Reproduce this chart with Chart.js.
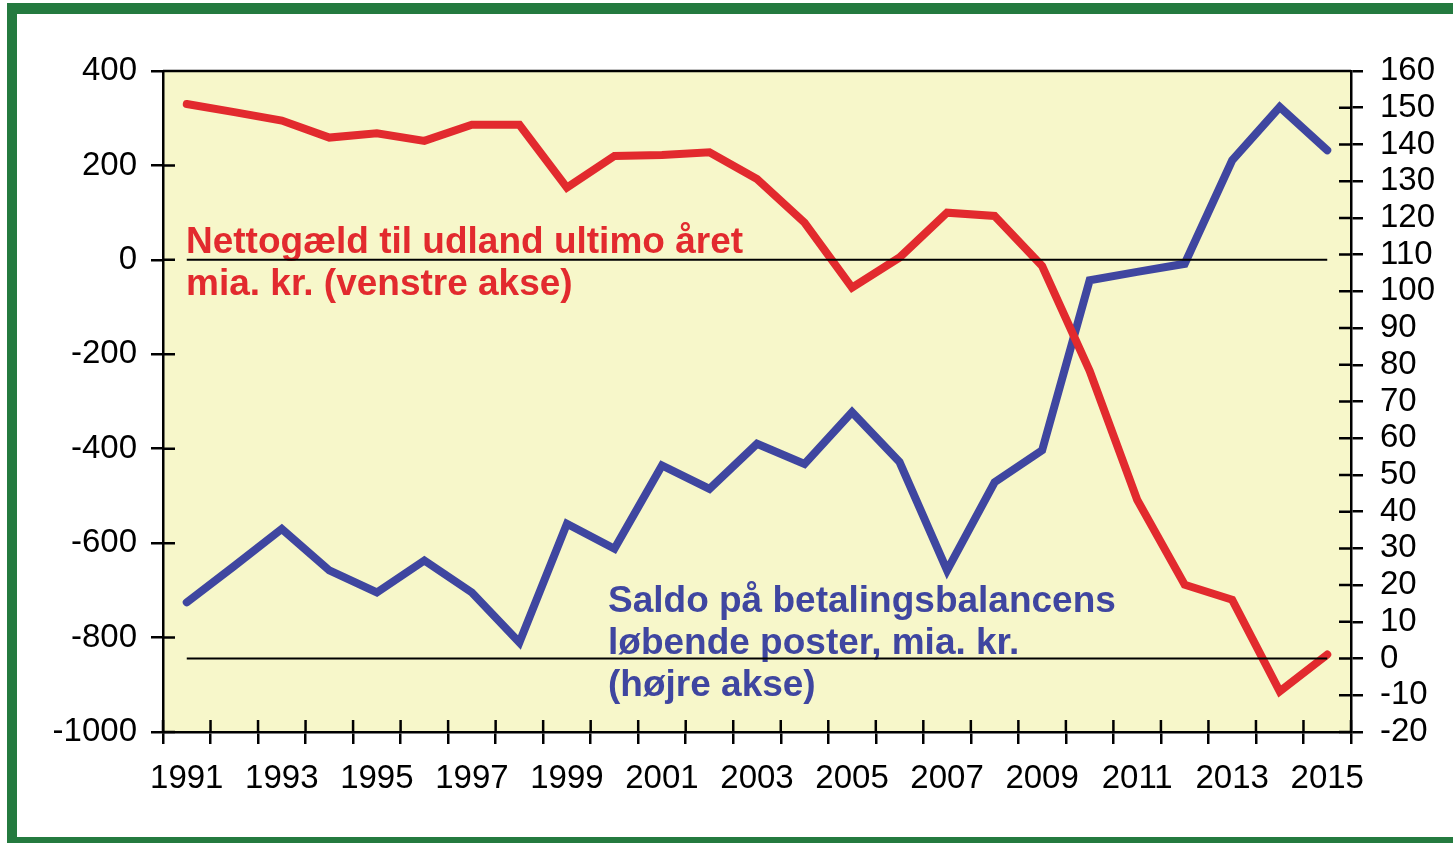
<!DOCTYPE html>
<html>
<head>
<meta charset="utf-8">
<script src="https://cdn.jsdelivr.net/npm/chart.js@4.4.1/dist/chart.umd.min.js"></script>
<style>
  html, body { margin: 0; padding: 0; background: #fff; overflow: hidden; }
  #wrap { position: relative; width: 1453px; height: 843px; }
  #frame {
    position: absolute; left: 7px; top: 3px; width: 1500px; height: 844px;
    box-sizing: border-box; border: solid #247a3f; border-width: 11px 10px 10px 10px;
    pointer-events: none;
  }
</style>
</head>
<body>
<div id="wrap">
  <canvas id="chart"></canvas>
  <div id="frame"></div>
</div>
<script>
// Years on the x axis (only every second one gets a label)
const years = ['1991', '1992', '1993', '1994', '1995', '1996', '1997', '1998', '1999', '2000',
  '2001', '2002', '2003', '2004', '2005', '2006', '2007', '2008', '2009', '2010',
  '2011', '2012', '2013', '2014', '2015'];

// Nettogæld til udland, mia. kr. (left axis)
const nettogaeld = [330, 313, 295, 259, 268, 252, 286, 286, 153, 220,
  222, 228, 171, 79, -59, 5, 100, 93, -13, -235,
  -508, -688, -720, -914, -836];

// Saldo på betalingsbalancens løbende poster, mia. kr. (right axis)
const saldo = [15.3, 25.2, 35.3, 24, 18, 26.7, 18, 4.4, 36.7, 29.9,
  52.6, 46.2, 58.5, 53, 67.1, 53.5, 24, 48, 56.7, 103,
  105.3, 107.5, 135.7, 150.2, 138.4];

// Axis ranges
const leftAxis = { min: -1000, max: 400, step: 200 };
const rightAxis = { min: -20, max: 160, step: 10 };

const RED = '#e22a2e';
const BLUE = '#3f46a0';
const PLOT_BG = '#f7f7ca';
const TICK = 12;
const AXIS_W = 2.5;

const redLabel = ['Nettogæld til udland ultimo året', 'mia. kr. (venstre akse)'];
const blueLabel = ['Saldo på betalingsbalancens', 'løbende poster, mia. kr.', '(højre akse)'];

Chart.defaults.font.family = '"Liberation Sans", Arial, sans-serif';
Chart.defaults.font.size = 33;
Chart.defaults.color = '#000';

// Background, inner tick halves, zero lines and the two text labels
const decorations = {
  id: 'decorations',
  beforeDraw(chart) {
    const { ctx, chartArea: a } = chart;
    ctx.save();
    ctx.fillStyle = PLOT_BG;
    ctx.fillRect(a.left, a.top, a.right - a.left, a.bottom - a.top);
    ctx.restore();
  },
  afterDatasetsDraw(chart) {
    const { ctx, scales } = chart;
    const x = scales.x, y = scales.y, y1 = scales.y1;
    ctx.save();

    // text labels
    ctx.font = 'bold 37px "Liberation Sans", Arial, sans-serif';
    ctx.textBaseline = 'alphabetic';
    ctx.textAlign = 'left';
    ctx.fillStyle = RED;
    redLabel.forEach((t, i) => ctx.fillText(t, 186, 253 + i * 42));
    ctx.fillStyle = BLUE;
    blueLabel.forEach((t, i) => ctx.fillText(t, 608, 612 + i * 42));

    // zero lines for both axes, first to last year
    const x0 = x.getPixelForValue(0);
    const x1 = x.getPixelForValue(years.length - 1);
    ctx.strokeStyle = '#000';
    ctx.lineWidth = 2;
    [y.getPixelForValue(0), y1.getPixelForValue(0)].forEach(py => {
      ctx.beginPath();
      ctx.moveTo(x0, py);
      ctx.lineTo(x1, py);
      ctx.stroke();
    });
    ctx.restore();
  },
  afterDraw(chart) {
    const { ctx, chartArea: a, scales } = chart;
    ctx.save();
    ctx.strokeStyle = '#000';
    ctx.lineWidth = AXIS_W;
    ctx.beginPath();
    // top frame line
    ctx.moveTo(a.left, a.top);
    ctx.lineTo(a.right, a.top);
    // inner halves of the ticks
    scales.y.ticks.forEach((t, i) => {
      const py = scales.y.getPixelForTick(i);
      ctx.moveTo(a.left, py);
      ctx.lineTo(a.left + TICK, py);
    });
    scales.y1.ticks.forEach((t, i) => {
      const py = scales.y1.getPixelForTick(i);
      ctx.moveTo(a.right - TICK, py);
      ctx.lineTo(a.right, py);
    });
    for (let i = 0; i <= years.length; i++) {
      const px = scales.x.getPixelForValue(i - 0.5);
      ctx.moveTo(px, a.bottom - TICK);
      ctx.lineTo(px, a.bottom);
    }
    ctx.stroke();
    ctx.restore();
  }
};

const axisGrid = {
  display: true,
  drawOnChartArea: false,
  drawTicks: true,
  tickLength: TICK,
  color: '#000',
  lineWidth: AXIS_W
};
const axisBorder = { display: true, color: '#000', width: AXIS_W };

new Chart(document.getElementById('chart'), {
  type: 'line',
  data: {
    labels: years,
    datasets: [
      {
        label: 'Nettogæld til udland ultimo året',
        data: nettogaeld,
        yAxisID: 'y',
        borderColor: RED,
        borderWidth: 8,
        borderCapStyle: 'round',
        borderJoinStyle: 'miter',
        pointRadius: 0,
        tension: 0
      },
      {
        label: 'Saldo på betalingsbalancens løbende poster',
        data: saldo,
        yAxisID: 'y1',
        borderColor: BLUE,
        borderWidth: 8,
        borderCapStyle: 'round',
        borderJoinStyle: 'miter',
        pointRadius: 0,
        tension: 0
      }
    ]
  },
  options: {
    responsive: true,
    maintainAspectRatio: false,
    animation: false,
    layout: { padding: { top: 71, left: 0, right: 0, bottom: 0 } },
    plugins: {
      legend: { display: false },
      tooltip: { enabled: false }
    },
    scales: {
      x: {
        offset: true,
        grid: { ...axisGrid, offset: true },
        border: axisBorder,
        ticks: {
          autoSkip: false,
          maxRotation: 0,
          minRotation: 0,
          padding: 15,
          callback: (val, i) => (i % 2 === 0 ? years[i] : '')
        },
        afterFit: s => { s.height = 111; }
      },
      y: {
        position: 'left',
        min: leftAxis.min,
        max: leftAxis.max,
        grid: axisGrid,
        border: axisBorder,
        ticks: { stepSize: leftAxis.step, padding: 14, autoSkip: false, callback: v => String(v) },
        afterFit: s => { s.width = 163; }
      },
      y1: {
        position: 'right',
        min: rightAxis.min,
        max: rightAxis.max,
        grid: axisGrid,
        border: axisBorder,
        ticks: { stepSize: rightAxis.step, padding: 17, autoSkip: false, callback: v => String(v) },
        afterFit: s => { s.width = 102; }
      }
    }
  },
  plugins: [decorations]
});
</script>
</body>
</html>
